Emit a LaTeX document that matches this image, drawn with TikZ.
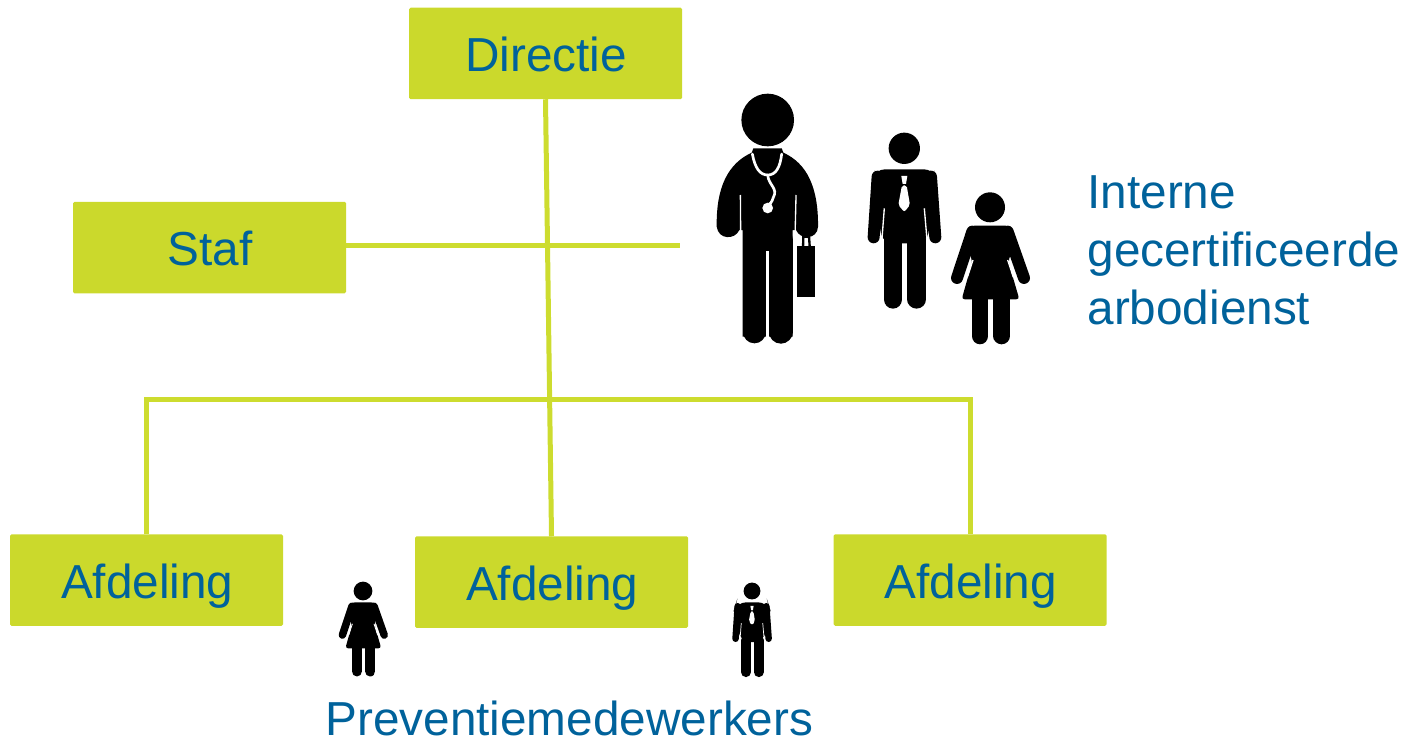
\documentclass[tikz,border=0pt]{standalone}
\usepackage{fontspec}
\setmainfont{Liberation Sans}
\definecolor{lime}{HTML}{CBD92C}
\definecolor{limeline}{HTML}{CDDC2F}
\definecolor{txtblue}{HTML}{00629B}
\def\fu{0.3333}
\tikzset{
  box/.style={fill=lime,rounded corners=1.5pt,inner sep=0pt,outer sep=0pt,minimum width=273pt,minimum height=91.5pt,
    text=txtblue,font=\fontsize{47.7}{58}\selectfont,text height=38pt,text depth=2pt,execute at begin node=\kern1.5pt},
  label/.style={anchor=base west,inner sep=0pt,outer sep=0pt,text=txtblue,font=\fontsize{47.7}{58}\selectfont},
  link/.style={draw=limeline,line width=5pt},
  lw/.style={line width=\fu*#1 pt},
  woman/.pic={
    \begin{scope}[shift={(-870,-382)}]
      \fill (870,382) circle (45);
      \fill[rounded corners=3] (815,437) -- (925,437) -- (945,480) -- (925,545) -- (958,658) -- (785,658) -- (817,545) -- (795,480) -- cycle;
      \draw[lw=36,line cap=round] (817,455) -- (771,594);
      \draw[lw=36,line cap=round] (923,455) -- (972,594);
      \draw[white,lw=4] (819,540) -- (802,592);
      \draw[white,lw=4] (923,540) -- (940,592);
      \draw[lw=50,line cap=round] (840,650) -- (840,768);
      \draw[lw=50,line cap=round] (905,650) -- (905,768);
    \end{scope}},
  man/.pic={
    \begin{scope}[shift={(-613,-205)}]
      \fill (613,205) circle (47);
      \fill[rounded corners=10] (525,268) -- (702,268) -- (712,300) -- (680,490) -- (548,490) -- (515,300) -- cycle;
      \draw[lw=36,line cap=round] (533,290) -- (521,472);
      \draw[lw=36,line cap=round] (693,290) -- (706,472);
      \draw[white,lw=4] (553,385) -- (545,490);
      \draw[white,lw=4] (673,385) -- (682,490);
      \draw[lw=56,line cap=round] (579,480) -- (579,658);
      \draw[lw=56,line cap=round] (650,480) -- (650,658);
      \fill[white] (604,288) -- (622,288) -- (618,312) -- (608,312) -- cycle;
      \fill[white,rounded corners=2] (606,316) -- (620,316) -- (630,375) -- (613,396) -- (595,375) -- cycle;
    \end{scope}},
  doctor/.pic={
    \begin{scope}[shift={(-203,-120)}]
      \fill (203,120) circle (79);
      \fill (160,205) -- (245,205) -- (250,218) .. controls (320,250) and (355,320) .. (354,440)
        .. controls (352,480) and (300,480) .. (288,450) -- (278,450) -- (278,770) -- (128,770) -- (128,450) -- (118,450)
        .. controls (105,480) and (55,480) .. (50,440) .. controls (48,320) and (85,250) .. (155,218) -- cycle;
      \draw[white,lw=4] (121,345) -- (122,470);
      \draw[white,lw=4] (288,345) -- (285,470);
      \draw[lw=70,line cap=round] (163,480) -- (163,755);
      \draw[lw=72,line cap=round] (242,480) -- (242,755);
      \draw[white,lw=7] (202,514) -- (202,800);
      \draw[white,lw=8,line cap=round] (157,222) .. controls (165,265) and (180,285) .. (203,285)
        .. controls (228,285) and (240,262) .. (245,222);
      \draw[white,lw=8,line cap=round] (203,285) .. controls (205,315) and (235,325) .. (220,352) .. controls (215,368) and (210,372) .. (204,376);
      \fill[white] (203,384) circle (16);
      \fill (292,497) rectangle (345,651);
      \draw[lw=7] (309,500) -- (310,470) -- (327,470) -- (329,500);
    \end{scope}}
}
\begin{document}
\begin{tikzpicture}[x=1pt,y=-1pt]
\useasboundingbox (0,0) rectangle (1412,741);
\node[box] (directie) at (545.5,53.5) {Directie};
\node[box] (staf) at (209.5,247.5) {Staf};
\node[box] (afd1) at (146.5,580) {Afdeling};
\node[box] (afd2) at (551.5,582) {Afdeling};
\node[box] (afd3) at (970,580) {Afdeling};
\coordinate (stafend) at (680,245);
\coordinate (busL) at (146.5,399);
\coordinate (busR) at (970,399);
\draw[link] (directie.south) -- (afd2.north);
\draw[link] (staf.east |- stafend) -- (stafend);
\draw[link] (afd1.north) -- (busL) -- (busR) -- (afd3.north);
\pic[scale=1/3] at (767.7,120) {doctor};
\pic[scale=1/3] at (904.3,148.3) {man};
\pic[scale=1/3] at (990,207.3) {woman};
\def\fu{0.208}
\pic[scale=0.208] at (363,591) {woman};
\def\fu{0.179}
\pic[scale=0.179] at (752,591) {man};
\node[label] (arbo1) at (1087.5,208) {Interne};
\node[label] (arbo2) at (1087.5,266) {gecertificeerde};
\node[label] (arbo3) at (1087.5,324) {arbodienst};
\node[label] (prev) at (325.5,735.5) {Preventiemedewerkers};
\end{tikzpicture}
\end{document}
